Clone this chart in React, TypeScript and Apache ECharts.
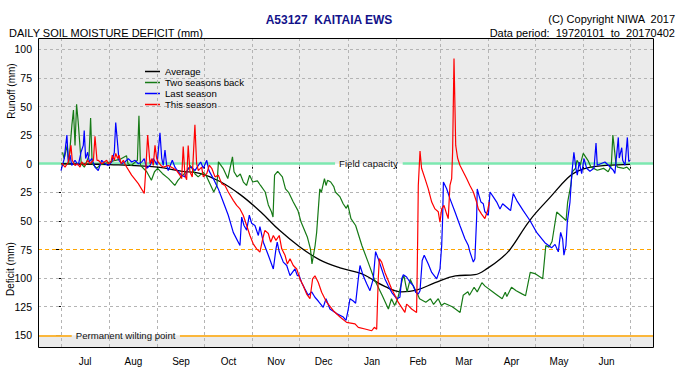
import React, { useEffect, useRef } from "react";
import * as echarts from "echarts";

const FONT = "'Liberation Sans', Arial, Helvetica, sans-serif";

// ---- axes ----
const monthNames = ["Jul", "Aug", "Sep", "Oct", "Nov", "Dec", "Jan", "Feb", "Mar", "Apr", "May", "Jun"];
const monthStarts = [0, 31, 62, 92, 123, 153, 184, 215, 243, 274, 304, 335, 365];
const monthMids = [15.5, 46.5, 77, 107.5, 138, 168.5, 199.5, 229, 258.5, 289, 319.5, 350];
const yTicks = [-150, -125, -100, -75, -50, -25, 0, 25, 50, 75, 100];
const grayGridValues = [-125, -100, -50, -25, 25, 50, 75, 100];
const X_MIN = -14.75;
const X_MAX = 379.75;
const Y_MIN = -160.2;
const Y_MAX = 109.9;
const FIELD_CAPACITY = 0;
const WILTING_POINT = -150;
const HALF_AWC = -75;
const fcGap = [175.8, 219.2];
const wpGap = [6.9, 76.3];

// ---- series (day of season, surplus(+) / deficit(-) mm) ----
const average = [
  [0, 0], [31, -0.8], [62, -3], [77, -6.5], [89, -8.5], [102, -15.5], [115, -27], [128, -42],
  [140, -58], [153, -72.5], [166, -84], [179, -91], [189, -94.5], [195, -97.5], [208, -107.5],
  [218.5, -112], [228, -110.5], [240, -104], [253, -98], [265.5, -97], [274, -91], [282, -83],
  [288, -75], [301, -49], [314, -29], [325, -12.5], [331, -6.7], [339, -3.2], [350, -1.5], [365, -0.5],
];

const twoSeasonsBack = [
  [1, 10], [2, 4.5], [4, 16], [5, 0], [7, 34], [8, 47], [9, 16], [10, 52], [11, 37], [13, 0], [15, -3],
  [18, 7], [19, 40], [20, 0], [23, -4], [25, -1], [35, 3], [38, 4], [42, 7], [43, 0], [45, -1.5], [49, 3],
  [50, 42], [51, -1.5], [55, -7], [58, -14.5], [60, -7], [62, -4], [65, -8.5], [69, -13], [73, -19],
  [75, -14.5], [77, -11.5], [81, -6], [83, -1.5], [86, -9], [88, -11.5], [91, -7.5], [93, -10], [98, -24.7],
  [100, -19], [101, 1.6], [104, -4], [107, -13], [110, 6], [111, -7], [113, -11.5], [115, -9], [117, -16],
  [119, -19], [121, -10], [123, -16], [126, -15], [128, -19], [131, -24.7], [133, -36], [135, -42],
  [136, -46.6], [137, -10], [139, -6.6], [142, -11.5], [144, -22], [146, -25], [149, -33.5], [152, -41],
  [154, -51], [158, -64], [160, -74.4], [161, -87.6], [163, -71.5], [164, -60], [166, -22], [167, -25],
  [169, -13], [170, -19], [171, -14.5], [173, -16], [175, -20], [176, -24.7], [179, -29], [181, -35],
  [183, -39], [184, -35.8], [186, -48], [189, -54], [193, -71.5], [197, -86], [201, -101], [206, -115],
  [210, -127], [212, -118], [214, -124], [216, -118], [219, -101], [220, -98], [222, -112], [224, -101],
  [226, -107], [228, -112], [230, -118], [234, -121], [237, -118], [239, -123], [242, -118], [244, -124],
  [246, -122], [251, -125], [253, -127], [256, -130], [258, -115], [261, -112], [262, -115], [265, -108],
  [267, -112], [270, -104], [272, -107], [276, -111], [279, -114], [283, -118], [285, -112.4], [286, -116],
  [289, -108], [292, -111], [296, -114], [298, -115.4], [301, -95], [304, -96], [309, -100.5], [311, -71.5],
  [313, -73], [315, -68], [318, -42.2], [324, -49.6], [325, -33.5], [327, -19], [328, -7], [330, -4],
  [331, 3], [333, -1.5], [335, 9], [338, 3], [340, -3], [344, -5.7], [348, -4], [351, -7], [353, -1.5],
  [354, 25], [356, 0], [357, -3], [361, -4], [363, -3], [365, -5.7],
];

const lastSeason = [
  [0, -6], [2.1, 4.5], [3, 16], [3.8, 25], [4.7, 1.5], [5.8, 7.5], [6.9, -1.5], [9, 3], [11.1, -1.5],
  [12.8, 10], [14.3, 16], [14.9, 29], [15.8, 4.5], [17.1, 10], [18.2, 1.5], [19.7, 4.5], [21.8, -3],
  [23.9, -6], [26.1, 3], [28.2, 0], [30.3, -1.5], [32.5, 1.5], [34.2, 10], [35.1, 36], [36.4, 16],
  [37.2, 3], [38.9, 0], [41, 1.5], [43.2, 4.5], [45.3, 1.5], [47.5, 3], [49.6, 0], [51.8, 1.5],
  [53.4, 4.5], [55, -4], [57.1, -1.5], [59.2, 4.5], [61.6, -1], [63.5, 27], [64.6, 5], [65.6, -1.5],
  [66.7, 12], [67.8, -1.5], [68.8, -6], [71.4, 3], [73.1, -3], [75.2, -7], [77.4, -10], [79.5, -11.5],
  [81.6, -4], [83.8, -3], [85.9, -6], [88.1, -1.5], [89.6, 1.5], [91.3, -4], [93.5, 3], [94.9, -6],
  [97.7, -13], [100.9, -22], [104.1, -33.5], [107.3, -45], [110.5, -60], [114.8, -71.5], [115.9, -46.6],
  [117.4, -54], [119.1, -58], [120.8, -45], [122.3, -52], [124.4, -54], [126.6, -62.7], [127.6, -55],
  [129.8, -68.6], [133, -80], [136.2, -92], [137.9, -74.4], [138.7, -68.6], [140, -77], [142.6, -86],
  [144.8, -89], [146.9, -97.8], [150.1, -92], [151.6, -97.8], [152.8, -97.8], [154.4, -104],
  [156.5, -109.6], [158.6, -115], [160.8, -112], [162.9, -116.7], [165, -120], [168.2, -125.6],
  [170, -118], [172.5, -127], [176.8, -131], [181.1, -134], [182.8, -137], [184.3, -127], [185.4, -118],
  [187.5, -120], [189, -122], [190.7, -100.7], [191.8, -89], [193.9, -98], [196.1, -105], [198.2, -111],
  [200.3, -100.7], [201.8, -76.8], [203.5, -83], [205.7, -92], [207.8, -100.7], [209.9, -106.6],
  [212.1, -112.4], [215.3, -118], [217.4, -116.7], [218.5, -100.7], [219.6, -97], [221.7, -99],
  [223.9, -103.6], [226, -106.6], [227.5, -112.4], [229.2, -113.9], [230.3, -111], [231.7, -84.6],
  [233, -80], [235.6, -87.6], [237.8, -95], [241, -100.7], [243.1, -92], [244.2, -71.5], [244.8, -48],
  [245.3, -16], [247.4, -21.9], [249.5, -30.5], [252.7, -42], [255.9, -54], [259.1, -65.6],
  [261.3, -71.5], [262.3, -77], [264.5, -86], [265.5, -83], [266.6, -48], [267, -22], [268.1, -27.6],
  [269.4, -33.5], [270.9, -35], [271.9, -42], [274.1, -45], [275.2, -24.7], [277.3, -29], [279.5, -33.5],
  [281.6, -39.5], [283.3, -35], [285.9, -38], [288.4, -41], [290.1, -26], [292.3, -32], [296.5, -41],
  [300.8, -49.6], [305.1, -60], [310.4, -69], [314.7, -73.5], [316.9, -70.5], [319, -77], [320.5, -60],
  [321.8, -66], [322.6, -80], [323.9, -71.5], [324.8, -51], [326.5, -33.5], [327.6, -10], [329, 10],
  [330.3, -4], [331.2, -10], [332.4, 1.5], [334, -8.6], [335.5, 4.5], [337.2, -4], [339.3, -6.6],
  [341.9, -4], [343.2, 18], [344, -1.3], [346.2, 0], [348.9, 1.5], [351.1, -1.3], [354.3, -5.7],
  [355.3, -8.6], [357.5, 23], [358.1, 5], [359.7, 14], [360.3, 3], [361.8, -1.3], [363.3, 23],
  [364.2, 2], [365, 3],
];

const thisSeason = [
  [0.4, 0.5], [2.6, -3], [4.7, 1.5], [6.4, 16], [7.2, 3], [9, -1.5], [10.7, 0], [12.2, -3], [13.3, 1.5],
  [15.4, -1.5], [17.1, 3], [18.6, 0], [20.8, 3], [21.8, 24], [23.1, 3], [23.9, 3], [26.1, 0], [27.8, 1.5],
  [29.3, 3], [30.3, 0], [32.1, 1.5], [32.9, 7.5], [34.2, 3], [35.1, 9], [36.4, 4.5], [37.2, 7.5],
  [38.5, 0], [40, 3], [41.5, -1.5], [45.3, -10], [49.6, -17.4], [53.4, -26], [54.3, -7], [55.6, 25],
  [57.1, 0], [58.2, 4.5], [59.2, -1.5], [60.3, 16], [61.4, 4.5], [62.4, 1.5], [64.1, -1.5], [65.6, -3],
  [68.8, -1.5], [72, -4], [74.2, -6], [76.3, -10], [77.4, -13], [78.4, 15], [79.5, -10], [80.6, -14],
  [81.6, 16], [82.7, -7], [84.2, -11.5], [85.9, 34], [87, 0], [88.1, -6], [90.2, -3], [91.3, -11.5],
  [93.5, -8.6], [95.1, -1.3], [96.7, -4], [98.8, -11.5], [100.9, -10], [103.1, -17.4], [105.2, -19],
  [107.3, -24.7], [110.5, -32], [112.7, -36.4], [114.8, -39.5], [116.9, -45], [119.1, -54],
  [121.2, -62.7], [123.3, -70], [125.5, -74.4], [127.6, -77.3], [129.4, -65.6], [130.8, -58.3],
  [133, -61], [134.5, -68.6], [136.2, -62.7], [137.9, -67], [140, -62.7], [141.6, -74.4], [143.7, -80],
  [145.2, -87.6], [146.9, -83], [149, -89], [151.2, -92], [153.3, -100.7], [155.4, -106.6],
  [157.6, -114], [159.7, -118], [161.4, -100.7], [162.9, -98], [165, -103.6], [167.2, -112.4],
  [170.4, -121], [174.7, -128.5], [179, -134], [183.2, -138.7], [188.6, -140], [190.7, -143],
  [195, -144.5], [199.3, -146], [201, -143], [202.5, -144.6], [203.5, -100.7], [204.2, -83],
  [205.7, -86], [207.8, -95], [209.9, -102], [212.1, -109.5], [214.2, -115], [216.3, -121],
  [218.5, -125.6], [220.6, -130], [221.7, -122.7], [222.8, -124], [224.9, -127], [228.1, -130],
  [228.8, -65.6], [229.2, -19], [230.3, 11], [231.3, -4], [233.5, -13], [235.6, -22], [237.8, -33.5],
  [239.9, -39.5], [242, -42], [243.1, -51], [244.2, -39.5], [245.7, -36.4], [247.4, -44], [248.4, -48],
  [249.5, -19], [250.6, -13], [251.2, 10], [252.1, 92], [253.2, 16], [254.4, 5], [255.9, -1.3],
  [258, -7], [260.2, -13], [262.3, -19], [264.5, -24.7], [266.6, -33.5], [267.7, -39.5], [269.8, -44],
  [271.9, -48], [273.7, -40.7], [274.7, -33.5],
];

const seriesNames = ["Average", "Two seasons back", "Last season", "This season"];
const seriesColors = ["#000000", "#167a16", "#0000ff", "#ff0000"];

const GRID = { left: 38, right: 47, top: 38, bottom: 38 };
const W = 700;
const H = 385;

export default function App() {
  const ref = useRef<HTMLDivElement>(null);
  useEffect(() => {
    if (!ref.current) return;
    const chart = echarts.init(ref.current, null, { renderer: "svg" });
    const boxW = W - GRID.left - GRID.right;
    const boxH = H - GRID.top - GRID.bottom;
    const txt = (text: string, x: number, y: number, opts: any = {}) => ({
      type: "text",
      x,
      y,
      silent: true,
      rotation: opts.rotation || 0,
      style: {
        text,
        fill: opts.fill || "#000",
        fontSize: opts.fontSize || 10,
        fontWeight: opts.fontWeight || "normal",
        fontFamily: FONT,
        textAlign: opts.align || "left",
        textVerticalAlign: "middle",
      },
    });
    const dataSeries = [average, twoSeasonsBack, lastSeason, thisSeason].map((d, i) => ({
      name: seriesNames[i],
      type: "line",
      data: d,
      showSymbol: false,
      symbol: "none",
      smooth: i === 0 ? 0.4 : false,
      z: 5 + i,
      lineStyle: { color: seriesColors[i], width: i === 0 ? 1.3 : 1.2 },
      itemStyle: { color: seriesColors[i] },
    }));
    const option: any = {
      animation: false,
      textStyle: { fontFamily: FONT },
      grid: { ...GRID, show: true, backgroundColor: "#ffffff", borderWidth: 0, containLabel: false, outerBoundsMode: "none" },
      xAxis: {
        type: "value",
        min: X_MIN,
        max: X_MAX,
        axisLine: { show: false },
        splitLine: { show: false },
        axisTick: { show: true, customValues: monthStarts, length: 5, lineStyle: { color: "#000", width: 1 } },
        axisLabel: {
          customValues: monthMids,
          margin: 9,
          fontSize: 10,
          color: "#000",
          fontFamily: FONT,
          formatter: (v: number) => monthNames[monthMids.indexOf(v)] ?? "",
        },
      },
      yAxis: {
        type: "value",
        min: Y_MIN,
        max: Y_MAX,
        axisLine: { show: false },
        splitLine: { show: false },
        axisTick: { show: true, customValues: yTicks, length: 5, lineStyle: { color: "#000", width: 1 } },
        axisLabel: {
          customValues: yTicks,
          margin: 6,
          fontSize: 10.5,
          color: "#000",
          fontFamily: FONT,
          formatter: (v: number) => String(Math.abs(v)),
        },
      },
      legend: {
        data: seriesNames,
        orient: "vertical",
        left: 145,
        top: 66,
        padding: 0,
        itemGap: 0,
        itemWidth: 15,
        itemHeight: 1.5,
        icon: "rect",
        selectedMode: false,
        textStyle: { fontSize: 9.6, lineHeight: 11, color: "#000", fontFamily: FONT },
      },
      series: [
        {
          name: "bg",
          type: "line",
          data: [],
          z: 1,
          markArea: {
            silent: true,
            itemStyle: { color: "#ebebeb" },
            data: [
              [{ yAxis: FIELD_CAPACITY }, { yAxis: Y_MAX }],
              [{ yAxis: Y_MIN }, { yAxis: WILTING_POINT }],
            ],
          },
        },
        {
          name: "gridlines",
          type: "line",
          data: [],
          z: 2,
          markLine: {
            silent: true,
            symbol: ["none", "none"],
            label: { show: false },
            lineStyle: { color: "#b4b4b4", type: [3, 3], width: 1 },
            data: [
              ...monthStarts.map((d) => ({ xAxis: d })),
              ...grayGridValues.map((v) => ({ yAxis: v })),
            ],
          },
        },
        {
          name: "halfAwc",
          type: "line",
          data: [],
          z: 3,
          markLine: {
            silent: true,
            symbol: ["none", "none"],
            label: { show: false },
            lineStyle: { color: "#ffa500", type: [4, 3], width: 1.2 },
            data: [{ yAxis: HALF_AWC }],
          },
        },
        {
          name: "fieldCapacity",
          type: "line",
          data: [],
          z: 3,
          markLine: {
            silent: true,
            symbol: ["none", "none"],
            lineStyle: { color: "#7de8b0", type: "solid", width: 2.5 },
            label: { show: true, position: "end", distance: 4, formatter: "Field capacity", color: "#111", fontSize: 9.6, fontFamily: FONT },
            data: [
              [{ coord: [X_MIN, FIELD_CAPACITY] }, { coord: [fcGap[0], FIELD_CAPACITY] }],
              [
                { coord: [fcGap[1], FIELD_CAPACITY], label: { show: false } },
                { coord: [X_MAX, FIELD_CAPACITY], label: { show: false } },
              ],
            ],
          },
        },
        {
          name: "wiltingPoint",
          type: "line",
          data: [],
          z: 3,
          markLine: {
            silent: true,
            symbol: ["none", "none"],
            lineStyle: { color: "#ffa500", type: "solid", width: 1.5 },
            label: { show: true, position: "end", distance: 4, formatter: "Permanent wilting point", color: "#111", fontSize: 9.6, fontFamily: FONT },
            data: [
              [{ coord: [X_MIN, WILTING_POINT] }, { coord: [wpGap[0], WILTING_POINT] }],
              [
                { coord: [wpGap[1], WILTING_POINT], label: { show: false } },
                { coord: [X_MAX, WILTING_POINT], label: { show: false } },
              ],
            ],
          },
        },
        ...dataSeries,
      ],
      graphic: [
        {
          type: "rect",
          silent: true,
          z: 100,
          shape: { x: GRID.left + 0.5, y: GRID.top + 0.5, width: boxW, height: boxH },
          style: { fill: "none", stroke: "#000", lineWidth: 1 },
        },
        txt("A53127  KAITAIA EWS", 329, 19.5, { fontSize: 12, fontWeight: "bold", fill: "#12128a", align: "center" }),
        txt("(C) Copyright NIWA  2017", 675, 19, { fontSize: 11, align: "right" }),
        txt("DAILY SOIL MOISTURE DEFICIT (mm)", 9, 33, { fontSize: 11 }),
        txt("Data period:  19720101  to  20170402", 675, 33, { fontSize: 11, align: "right" }),
        txt("Daily deficit (or surplus), 1\u2212July to 30\u2212June.  AWC = 150mm", 63, 56, { fontSize: 9.6 }),
        txt("Runoff (mm)", 11, 91, { fontSize: 10, rotation: Math.PI / 2, align: "center" }),
        txt("Deficit (mm)", 10, 269, { fontSize: 10, rotation: Math.PI / 2, align: "center" }),
      ],
    };
    chart.setOption(option);
    return () => chart.dispose();
  }, []);
  return (
    <div
      ref={ref}
      style={{ position: "fixed", left: 0, top: 0, width: W, height: H, background: "#fff" }}
    />
  );
}
